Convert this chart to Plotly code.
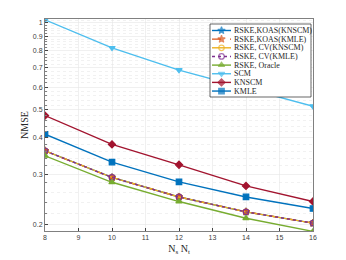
import numpy as np
import plotly.graph_objects as go

x_vals = [8, 10, 12, 14, 16]
rske_koas_knscm = [0.361, 0.292, 0.250, 0.222, 0.203]
rske_koas_kmle = [0.361, 0.292, 0.250, 0.222, 0.203]
rske_cv_knscm = [0.361, 0.292, 0.250, 0.222, 0.203]
rske_cv_kmle = [0.361, 0.292, 0.250, 0.222, 0.203]
rske_oracle = [0.347, 0.281, 0.241, 0.211, 0.190]
scm = [1.025, 0.820, 0.687, 0.595, 0.515]
knscm = [0.478, 0.380, 0.323, 0.273, 0.241]
kmle = [0.412, 0.330, 0.282, 0.250, 0.228]

names = ["RSKE,KOAS(KNSCM)", "RSKE,KOAS(KMLE)", "RSKE, CV(KNSCM)", "RSKE, CV(KMLE)",
         "RSKE, Oracle", "SCM", "KNSCM", "KMLE"]
series = [rske_koas_knscm, rske_koas_kmle, rske_cv_knscm, rske_cv_kmle,
          rske_oracle, scm, knscm, kmle]
colors = ["#0072BD", "#D95319", "#EDB120", "#7E2F8E", "#77AC30", "#4DBEEE", "#A2142F", "#0072BD"]
dashes = ["solid", "dash", "solid", "dot", "solid", "solid", "solid", "solid"]
symbols = ["star", "star", "circle-open", "circle-open", "triangle-up", "triangle-down", "diamond", "square"]

W, H = 346, 260
L, R, T, B = 45, 313, 19, 231

fig = go.Figure()
for n, s, c, d, m in zip(names, series, colors, dashes, symbols):
    fig.add_trace(go.Scatter(x=x_vals, y=s, name=n, mode="lines+markers", showlegend=False,
                             line=dict(color=c, width=1.4, dash=d),
                             marker=dict(symbol=m, size=5.5, color=c, line=dict(color=c, width=1.2)),
                             xaxis="x", yaxis="y"))

# custom compact legend (pixel coordinate overlay axes)
leg_left, leg_right, leg_top, leg_bot = 210, 311, 24, 97
fig.add_trace(go.Scatter(x=[leg_left, leg_right, leg_right, leg_left, leg_left],
                         y=[leg_top, leg_top, leg_bot, leg_bot, leg_top],
                         mode="lines", fill="toself", fillcolor="white",
                         line=dict(color="#262626", width=0.7), showlegend=False,
                         xaxis="x2", yaxis="y2", hoverinfo="skip"))
row0, row_gap = 30.5, 8.65
for i, (n, c, d, m) in enumerate(zip(names, colors, dashes, symbols)):
    yy = row0 + i * row_gap
    fig.add_trace(go.Scatter(x=[212, 221.5, 231], y=[yy, yy, yy], mode="lines+markers", showlegend=False,
                             line=dict(color=c, width=1.4, dash=d),
                             marker=dict(symbol=m, size=[0, 5.5, 0], color=c, line=dict(color=c, width=1.2)),
                             xaxis="x2", yaxis="y2", hoverinfo="skip"))
    fig.add_annotation(x=232, y=yy, xref="x2", yref="y2", text=n, showarrow=False,
                       xanchor="left", yanchor="middle",
                       font=dict(family="Liberation Serif, Times New Roman", size=8, color="#262626"))

y_ticks = [0.2, 0.3, 0.4, 0.5, 0.6, 0.7, 0.8, 0.9, 1]
y_labels = ["0.2", "0.3", "0.4", "0.5", "0.6", "0.7", "0.8", "0.9", "1"]
y_minor = [round(v, 2) for v in np.arange(0.22, 1.03, 0.02) if round(v, 2) not in y_ticks]

fig.update_layout(
    width=W, height=H,
    margin=dict(l=L, r=W - R, t=T, b=H - B, autoexpand=False),
    paper_bgcolor="white", plot_bgcolor="white",
    font=dict(family="Liberation Sans, Arial", size=7, color="#404040"),
    showlegend=False,
    xaxis=dict(range=[8, 16], tickvals=list(range(8, 17)), ticks="inside", ticklen=3,
               automargin=False,
               showline=True, linecolor="#808080", linewidth=1, mirror=True,
               showgrid=True, gridcolor="#e6e6e6", gridwidth=0.6, zeroline=False,
               title=dict(text="N<sub>s</sub> N<sub>t</sub>", standoff=4,
                          font=dict(family="Liberation Serif, Times New Roman", size=10, color="#262626"))),
    yaxis=dict(type="log", range=[np.log10(0.1906), np.log10(1.032)],
               tickvals=y_ticks, ticktext=y_labels, ticks="inside", ticklen=3,
               automargin=False,
               showline=True, linecolor="#808080", linewidth=1, mirror=True,
               showgrid=True, gridcolor="#e6e6e6", gridwidth=0.6, zeroline=False,
               minor=dict(tickvals=y_minor, showgrid=True, gridcolor="#e8e8e8", griddash="dot",
                          gridwidth=0.6, ticks="inside", ticklen=1.5, tickcolor="#808080"),
               title=dict(text="NMSE", standoff=2,
                          font=dict(family="Liberation Serif, Times New Roman", size=10, color="#262626"))),
    xaxis2=dict(overlaying="x", range=[L, R], visible=False, anchor="y2", fixedrange=True,
                automargin=False, showgrid=False, zeroline=False),
    yaxis2=dict(overlaying="y", range=[B, T], visible=False, anchor="x2", fixedrange=True,
                automargin=False, showgrid=False, zeroline=False),
)

fig.write_html("out.html", config={"displayModeBar": False, "staticPlot": True},
               post_script="document.body.style.margin='0';document.body.style.padding='0';")
